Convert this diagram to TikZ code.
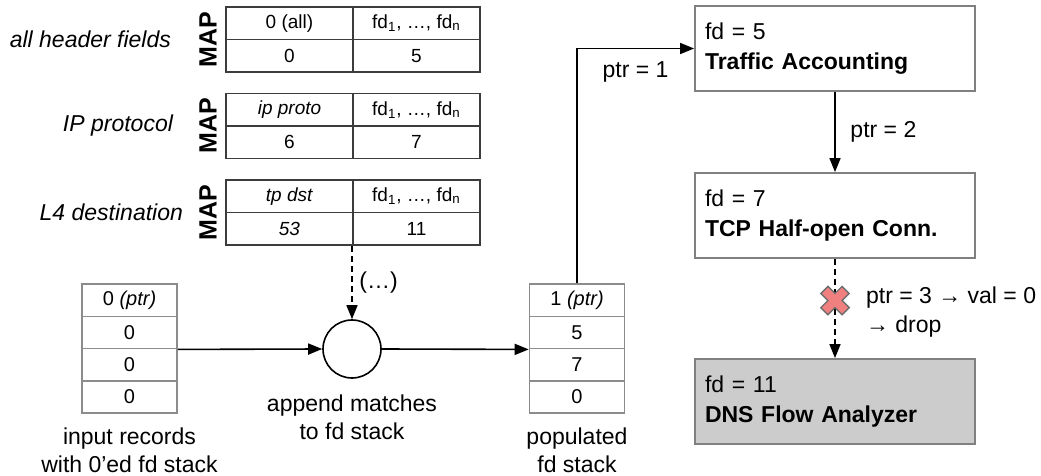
\documentclass[tikz,border=0pt]{standalone}
\usepackage{fontspec}
\setmainfont{Liberation Sans}
\usetikzlibrary{arrows.meta}
\definecolor{tabline}{RGB}{60,60,60}
\definecolor{stackline}{RGB}{140,140,140}
\definecolor{boxline}{RGB}{128,128,128}
\definecolor{boxfill}{RGB}{204,204,204}
\definecolor{crossfill}{RGB}{240,128,128}
\definecolor{crossline}{RGB}{110,110,110}

\begin{document}
\begin{tikzpicture}[x=0.5pt, y=-0.5pt,
  every node/.style={font=\fontsize{11.5}{13.8}\selectfont},
  cell/.style={draw=tabline, line width=0.9pt, minimum width=63.5pt, minimum height=16.25pt, inner sep=0pt, font=\fontsize{9.5}{11}\selectfont},
  slot/.style={draw=stackline, line width=0.8pt, minimum width=47.5pt, minimum height=16.125pt, inner sep=0pt, font=\fontsize{10}{12}\selectfont},
  fdbox/.style={draw=boxline, line width=0.9pt, minimum width=140pt, minimum height=42.5pt, text width=130pt, inner xsep=5pt, align=left, font=\fontsize{11.5}{15}\selectfont},
  arr/.style={-{Triangle[length=7pt,width=5.5pt]}, line width=0.8pt},
  dashline/.style={dash pattern=on 3pt off 2pt},
  maplbl/.style={rotate=90, font=\fontsize{12.5}{14}\selectfont\bfseries},
  fieldlbl/.style={anchor=east, font=\fontsize{11.5}{13.8}\selectfont\itshape}
]
\useasboundingbox (0,0) rectangle (1041,476);

% MAP テーブル
\foreach \n/\y/\lab/\lx/\key/\val/\fd in {1/7/{all header fields}/178/{0 (all)}/0/5,
    2/93.5/{IP protocol}/180/{\textit{ip proto}}/6/7,
    3/180/{L4 destination}/190/{\textit{tp dst}}/{\textit{53}}/11} {
  \node[cell] (k\n) at (289.5,\y+16.25) {\key};
  \node[cell] (f\n) at (416.5,\y+16.25) {fd\textsubscript{1}, …, fd\textsubscript{n}};
  \node[cell] (v\n) at (289.5,\y+48.75) {\val};
  \node[cell] (w\n) at (416.5,\y+48.75) {\fd};
  \node[maplbl] (m\n) at (208,\y+32.5) {MAP};
  \node[fieldlbl] (l\n) at (\lx,\y+32.5) {\lab};
}

% fd スタック
\foreach \i/\a/\b in {1/{0 \textit{(ptr)}}/{1 \textit{(ptr)}}, 2/0/5, 3/0/7, 4/0/0} {
  \node[slot] (in\i) at (129.5,268+32.25*\i) {\a};
  \node[slot] (out\i) at (577,268+32.25*\i) {\b};
}
\node[align=center] (inlbl) at (129.5,450) {input records\\with 0’ed fd stack};
\node[align=center] (outlbl) at (577,450) {populated\\fd stack};

% 追加処理
\node[circle, draw, line width=0.8pt, minimum size=29pt, inner sep=0pt] (app) at (352,349) {};
\node[align=center] (applbl) at (352,417.5) {append matches\\to fd stack};

\draw[arr] (in2.south east) -- (app.west);
\draw[arr] (app.east) -- (out2.south west);
\draw[arr, dashline] (app |- v3.south) -- (app.north) node[midway, right] {(…)};

% 解析モジュール
\node[fdbox] (acct) at (835,48.5) {fd = 5\\\textbf{Traffic Accounting}};
\node[fdbox] (tcp) at (835,215.5) {fd = 7\\\textbf{TCP Half-open Conn.}};
\node[fdbox, fill=boxfill] (dns) at (835,401.5) {fd = 11\\\textbf{DNS Flow Analyzer}};

\draw[arr] (out1.north) |- (acct.west) node[pos=0.75, below, yshift=-3pt] {ptr = 1};
\draw[arr] (acct) -- (tcp) node[midway, right=4pt] {ptr = 2};
\draw[arr, dashline] (tcp) -- (dns) coordinate[pos=0.42] (drop);

% 破棄
\begin{scope}[shift={(drop)}, rotate=45]
\draw[crossline, fill=crossfill, line width=0.7pt] (5,5) -- (15,5) -- (15,-5) -- (5,-5) -- (5,-15) -- (-5,-15) -- (-5,-5) -- (-15,-5) -- (-15,5) -- (-5,5) -- (-5,15) -- (5,15) -- cycle;
\end{scope}
\node[anchor=west, align=left, font=\fontsize{11.5}{14.5}\selectfont] (why) at (859,312.5) {ptr = 3 → val = 0\\→ drop};
\end{tikzpicture}
\end{document}
